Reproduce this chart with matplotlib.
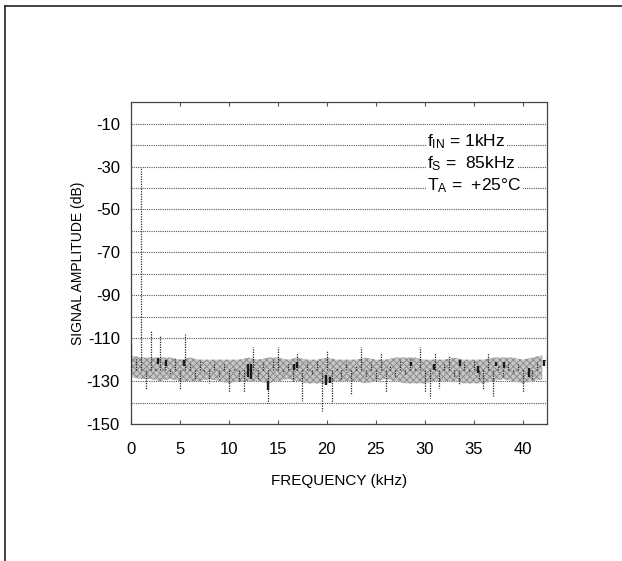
import numpy as np
import matplotlib
matplotlib.use("Agg")
import matplotlib.pyplot as plt
from matplotlib.lines import Line2D

plt.rcParams['font.family'] = ['Liberation Sans', 'DejaVu Sans']
plt.rcParams['mathtext.fontset'] = 'custom'
plt.rcParams['mathtext.rm'] = 'Liberation Sans'
plt.rcParams['mathtext.it'] = 'Liberation Sans'
plt.rcParams['hatch.linewidth'] = 0.6

# FFT of the output, fIN = 1kHz, fS = 85kHz -> bins every 0.5 kHz up to fS/2
trace_db = [-112, -119, -100, -134, -106, -124, -109, -121, -127, -119,
            -134, -108, -122, -129, -120, -126, -131, -121, -128, -122,
            -135, -124, -130, -135, -123, -114, -129, -121, -140, -120,
            -114, -126, -122, -130, -117, -139, -121, -127, -120, -144,
            -116, -140, -124, -129, -121, -136, -123, -114, -128, -121,
            -130, -117, -135, -123, -128, -120, -127, -119, -124, -114,
            -135, -138, -117, -133, -122, -118, -128, -132, -121, -126,
            -120, -129, -134, -117, -137, -123, -128, -121, -126, -122,
            -135, -124, -129, -121, -125, -118]

# noise floor envelope, one value per kHz (0..42 kHz)
floor_hi = [-118, -119, -119, -119, -119, -120, -119, -120, -120, -120,
            -120, -120, -119, -120, -119, -119, -120, -119, -120, -120,
            -119, -120, -120, -120, -119, -120, -120, -119, -119, -119,
            -120, -120, -120, -119, -120, -120, -120, -119, -119, -119,
            -120, -119, -118]
floor_lo = [-128, -129, -129, -130, -129, -130, -130, -130, -129, -130,
            -131, -130, -130, -130, -131, -130, -129, -130, -131, -131,
            -131, -130, -130, -130, -131, -130, -129, -130, -131, -131,
            -131, -130, -130, -130, -131, -131, -131, -130, -129, -130,
            -131, -130, -129]

# denser clumps of bins inside the floor
clump_f = [2.8, 3.6, 5.4, 12.0, 12.3, 14.0, 16.6, 17.0, 19.9, 20.3,
           28.6, 30.9, 33.6, 35.4, 37.3, 38.1, 40.6, 42.2]
clump_top = [-119, -120, -120, -122, -122, -130, -122, -121, -127, -128,
             -121, -122, -120, -123, -121, -121, -124, -120]
clump_bot = [-122, -123, -123, -128, -129, -134, -125, -124, -132, -131,
             -123, -125, -123, -126, -123, -124, -128, -123]

fund_khz = 1.0
fund_db = -30

x_ticks = [0, 5, 10, 15, 20, 25, 30, 35, 40]
y_ticks = [-10, -30, -50, -70, -90, -110, -130, -150]

trace_f = np.linspace(0, 42.5, len(trace_db))
floor_f = np.arange(len(floor_hi))

fig = plt.figure(figsize=(6.22, 5.61), dpi=100)
ax = fig.add_axes([0.2106, 0.244, 0.669, 0.574])

dot = (0, (1, 1))
ax.fill_between(floor_f, floor_lo, floor_hi, facecolor='#c6c6c6',
                edgecolor='#858585', hatch='xxxxx', linewidth=0, zorder=2)
ax.vlines(trace_f, -125, trace_db, color='#222222', lw=0.9, ls=dot, zorder=3)
ax.vlines(clump_f, clump_bot, clump_top, color='#1a1a1a', lw=1.7, zorder=3)
ax.vlines(fund_khz, -100, fund_db, color='#333333', lw=0.9, ls=dot, zorder=3)

ax.set_xlim(0, 42.5)
ax.set_ylim(-150, 0)
ax.set_xticks(x_ticks)
ax.set_yticks(y_ticks)
ax.set_yticks(np.arange(-140, 0, 20), minor=True)
ax.grid(True, which='both', axis='y', color='#555555', lw=0.8, ls=dot)
ax.tick_params(axis='x', direction='in', length=3, width=0.8, color='#555555',
               top=True, labelsize=12, pad=13)
ax.tick_params(axis='y', which='both', length=0, labelsize=12, pad=8)
ax.set_yticklabels([str(v) for v in y_ticks])
for s in ax.spines.values():
    s.set_linestyle(dot)
    s.set_color('#444444')
    s.set_linewidth(0.9)

ax.set_xlabel('FREQUENCY (kHz)', fontsize=11, labelpad=12)
ax.set_ylabel('SIGNAL AMPLITUDE (dB)', fontsize=10, labelpad=1)

notes = [r'f$_{\mathrm{IN}}$ = 1kHz', r'f$_{\mathrm{S}}$ =  85kHz', r'T$_{\mathrm{A}}$ =  +25°C']
for i, txt in enumerate(notes):
    ax.text(0.712, 0.876 - i * 0.068, txt, transform=ax.transAxes, fontsize=12.5,
            ha='left', va='center', zorder=4,
            bbox=dict(facecolor='white', edgecolor='none', pad=1.0))

# page frame: top and left rules
fig.add_artist(Line2D([0.0088, 1.0], [0.9893, 0.9893], color='#222222', lw=1.2))
fig.add_artist(Line2D([0.0088, 0.0088], [0.0, 0.9893], color='#222222', lw=1.2))

fig.savefig('out.png', dpi=100)
